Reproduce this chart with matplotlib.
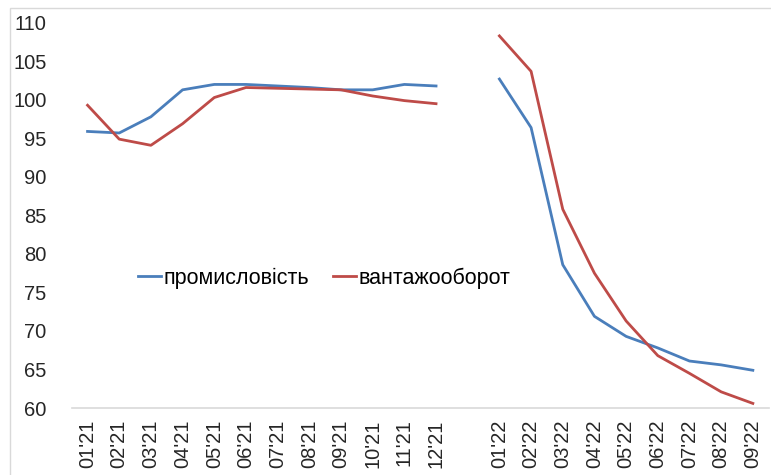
import numpy as np
import matplotlib
matplotlib.use("Agg")
import matplotlib.pyplot as plt
from matplotlib.patches import Rectangle

plt.rcParams['font.family'] = ['Liberation Sans', 'DejaVu Sans']

# month labels; 2021 and 2022 are split by one empty slot
labels_21 = ["01'21", "02'21", "03'21", "04'21", "05'21", "06'21",
             "07'21", "08'21", "09'21", "10'21", "11'21", "12'21"]
labels_22 = ["01'22", "02'22", "03'22", "04'22", "05'22", "06'22",
             "07'22", "08'22", "09'22"]

industry_21 = [95.9, 95.7, 97.8, 101.3, 102.0, 102.0, 101.8, 101.6, 101.3, 101.3, 102.0, 101.8]
industry_22 = [102.7, 96.4, 78.6, 71.9, 69.3, 67.8, 66.1, 65.6, 64.9]
freight_21 = [99.3, 94.9, 94.1, 96.9, 100.3, 101.6, 101.5, 101.4, 101.3, 100.5, 99.9, 99.5]
freight_22 = [108.3, 103.7, 85.8, 77.5, 71.3, 66.8, 64.5, 62.1, 60.6]

blue = '#4A7EBB'
red = '#BE4B48'

x21 = np.arange(len(labels_21))
x22 = np.arange(len(labels_22)) + len(labels_21) + 1

fig = plt.figure(figsize=(7.71, 4.75), dpi=100)
ax = fig.add_axes([0.093, 0.141, 0.904, 0.811])

ax.plot(x21, industry_21, color=blue, lw=2, label='промисловість')
ax.plot(x22, industry_22, color=blue, lw=2)
ax.plot(x21, freight_21, color=red, lw=2, label='вантажооборот')
ax.plot(x22, freight_22, color=red, lw=2)

ax.set_ylim(60, 110)
ax.set_yticks(np.arange(60, 111, 5))
ax.set_xlim(-0.5, x22[-1] + 0.5)
ax.set_xticks(list(x21) + list(x22))
ax.set_xticklabels(labels_21 + labels_22, rotation=90)

for s in ['top', 'right', 'left']:
    ax.spines[s].set_visible(False)
ax.spines['bottom'].set_color('#d9d9d9')
ax.spines['bottom'].set_linewidth(1.2)
ax.tick_params(axis='both', length=0, labelsize=14.5, colors='#262626')
ax.tick_params(axis='y', pad=18)
ax.tick_params(axis='x', pad=8)

fig.legend(loc='center', bbox_to_anchor=(324 / 771, 1 - 278 / 475), ncol=2,
           frameon=False, fontsize=15.5, handlelength=1.1, handletextpad=0.1,
           columnspacing=1.1)

fig.patches.append(Rectangle((10 / 771, -0.01), 1.0, 1 - 8 / 475 + 0.01,
                             transform=fig.transFigure, fill=False,
                             edgecolor='#d9d9d9', lw=1))

fig.savefig('out.png', dpi=100)
